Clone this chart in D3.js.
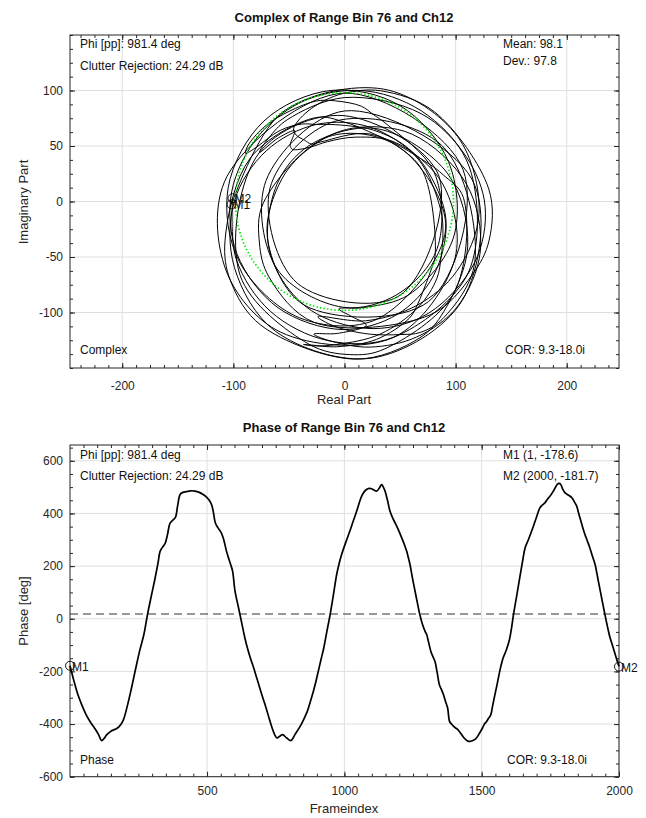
<!DOCTYPE html>
<html>
<head>
<meta charset="utf-8">
<title>Complex and Phase of Range Bin 76</title>
<style>
  body { margin: 0; background: #fff; }
  svg { display: block; font-family: "Liberation Sans", Arial, Helvetica, sans-serif; }
  .grid line { stroke: #dfdfdf; stroke-width: 1; }
  .axis path { display: none; }
  .axis line { stroke: #262626; }
  .axis text { fill: #262626; }
  .box { fill: none; stroke: #262626; stroke-width: 1; }
  .note { font-size: 12px; fill: #111; }
  .title { font-size: 13px; font-weight: bold; fill: #111; text-anchor: middle; }
  .label { font-size: 13px; fill: #262626; text-anchor: middle; }
</style>
</head>
<body>
<svg width="646" height="818"></svg>
<script src="https://d3js.org/d3.v7.min.js"></script>
<script>
// ---------------- data ----------------
// phase of the range bin, sampled along the frame index
const frameIdx = [
  1, 15, 30, 45, 60, 75, 90, 105, 116, 125,
  135, 150, 165, 180, 195, 210, 225, 240, 255, 270,
  283, 298, 310, 322, 329, 338, 347, 356, 365, 376,
  385, 393, 402, 412, 425, 440, 456, 472, 486, 498,
  508, 517, 523, 530, 540, 550, 559, 571, 580, 586,
  593, 602, 614, 626, 638, 647, 658, 670, 681, 692,
  703, 715, 726, 737, 746, 755, 765, 775, 790, 805,
  812, 820, 831, 842, 853, 865, 876, 887, 896, 905,
  915, 925, 936, 948, 960, 972, 981, 990, 1005, 1020,
  1032, 1045, 1054, 1063, 1072, 1081, 1090, 1099, 1108, 1118,
  1127, 1136, 1142, 1148, 1157, 1166, 1177, 1188, 1198, 1209,
  1218, 1227, 1233, 1239, 1247, 1255, 1265, 1275, 1284, 1294,
  1300, 1306, 1315, 1323, 1330, 1338, 1346, 1354, 1361, 1368,
  1376, 1383, 1390, 1398, 1405, 1413, 1425, 1436, 1447, 1458,
  1470, 1481, 1492, 1503, 1510, 1518, 1525, 1533, 1540, 1548,
  1556, 1563, 1570, 1578, 1590, 1601, 1608, 1615, 1628, 1640,
  1650, 1658, 1670, 1682, 1697, 1712, 1721, 1730, 1740, 1749,
  1761, 1768, 1775, 1782, 1788, 1795, 1803, 1815, 1828, 1837,
  1846, 1852, 1858, 1867, 1876, 1885, 1894, 1903, 1913, 1919,
  1925, 1931, 1937, 1943, 1949, 1958, 1967, 1975, 1983, 1991,
  2000
];
const phaseDeg = [
  -178.6, -235, -289, -330, -365, -392, -415, -440, -463, -455,
  -440, -427, -420, -410, -385, -330, -263, -190, -120, -60,
  15, 91, 150, 215, 256, 272, 285, 320, 362, 375,
  385, 430, 472, 480, 483, 486, 485, 480, 472, 462,
  450, 432, 405, 365, 345, 330, 307, 256, 225, 206,
  181, 104, 45, -15, -74, -111, -150, -187, -225, -263,
  -300, -339, -378, -415, -440, -453, -446, -440, -453, -463,
  -455, -440, -422, -403, -380, -352, -315, -276, -240, -200,
  -155, -111, -50, 15, 90, 168, 210, 244, 290, 333,
  370, 409, 440, 466, 482, 491, 495, 494, 489, 485,
  496, 510, 500, 485, 450, 409, 380, 358, 335, 307,
  283, 256, 232, 206, 160, 117, 65, 15, -20, -48,
  -61, -86, -124, -145, -162, -205, -251, -270, -289, -313,
  -339, -390, -400, -409, -415, -421, -437, -453, -463, -466,
  -462, -453, -435, -415, -400, -390, -378, -365, -330, -289,
  -250, -213, -180, -149, -118, -80, -40, 10, 90, 165,
  225, 269, 300, 333, 378, 421, 432, 440, 455, 466,
  485, 498, 510, 514, 510, 492, 479, 470, 460, 445,
  428, 405, 383, 350, 320, 295, 269, 238, 206, 175,
  142, 110, 78, 46, 15, -30, -70, -97, -124, -152,
  -181.7
];
// distance of the complex sample from the centre of rotation
const radiusCor = [
  112, 118, 122, 120, 112, 102, 94, 90, 92, 96,
  102, 110, 116, 118, 114, 104, 92, 82, 76, 78,
  86, 96, 106, 114, 118, 120, 118, 110, 100, 90,
  84, 80, 78, 80, 86, 94, 100, 104, 108, 112,
  116, 120, 122, 124, 122, 116, 108, 98, 92, 88,
  84, 80, 78, 82, 90, 100, 110, 118, 122, 120,
  112, 100, 90, 82, 78, 80, 86, 94, 102, 108,
  110, 114, 118, 120, 116, 106, 94, 84, 78, 76,
  80, 88, 98, 108, 116, 122, 124, 120, 110, 96,
  86, 80, 76, 76, 78, 82, 86, 90, 94, 98,
  102, 106, 108, 110, 112, 114, 116, 118, 114, 106,
  98, 90, 84, 80, 78, 80, 86, 94, 104, 114,
  120, 124, 126, 124, 118, 110, 100, 90, 82, 78,
  76, 78, 82, 88, 94, 100, 108, 114, 118, 120,
  118, 112, 104, 96, 90, 84, 80, 78, 80, 86,
  94, 102, 110, 116, 122, 124, 120, 112, 100, 88,
  82, 78, 76, 78, 84, 92, 98, 104, 110, 114,
  116, 118, 118, 116, 112, 106, 100, 94, 90, 86,
  84, 82, 80, 82, 86, 92, 98, 104, 110, 114,
  116, 118, 118, 116, 114, 112, 110, 110, 111, 112,
  112
];
const cor = [9.3, -18.0];      // centre of rotation (re, im)
const meanMag = 98.1;          // green reference circle
const phaseLevel = 18;         // dashed mean phase line
const markerNames = ['M1', 'M2'];
const markerFrames = [1, 2000];
const markerPhase = [-178.6, -181.7];

const reTicks = [-200, -100, 0, 100, 200];
const imTicks = [-100, -50, 0, 50, 100];
const frameTicks = [500, 1000, 1500, 2000];
const phaseTicks = [-600, -400, -200, 0, 200, 400, 600];

const infoLeft = ['Phi [pp]: 981.4 deg', 'Clutter Rejection: 24.29 dB'];
const infoComplex = ['Mean: 98.1', 'Dev.: 97.8'];
const infoPhase = ['M1 (1, -178.6)', 'M2 (2000, -181.7)'];
const corText = 'COR: 9.3-18.0i';

// ---------------- layout ----------------
const svg = d3.select('svg');
const FONT = '"Liberation Sans", Arial, Helvetica, sans-serif';
const left = 70, right = 619;

const xRe = d3.scaleLinear().domain([-247, 247]).range([left, right]);
const yIm = d3.scaleLinear().domain([-150, 150]).range([368, 35]);
const xFr = d3.scaleLinear().domain([1, 2000]).range([left, right]);
const yPh = d3.scaleLinear().domain([-600, 660]).range([776.7, 445]);

function minorTicks(scale, step) {
  const [a, b] = scale.domain();
  return d3.range(Math.ceil(a / step) * step, b + 1e-9, step);
}

// grid, ticks on all four sides, box
function drawAxes(g, x, y, xt, yt, xStep, yStep, pad) {
  const [x0, x1] = x.range();
  const [y0, y1] = y.range();
  const grid = g.append('g').attr('class', 'grid');
  grid.selectAll('.gx').data(xt).join('line')
    .attr('x1', d => x(d)).attr('x2', d => x(d)).attr('y1', y1).attr('y2', y0);
  grid.selectAll('.gy').data(yt).join('line')
    .attr('y1', d => y(d)).attr('y2', d => y(d)).attr('x1', x0).attr('x2', x1);

  const fmt = d => String(d);
  const put = (axis, tx, ty) => g.append('g').attr('class', 'axis')
    .attr('transform', `translate(${tx},${ty})`).call(axis)
    .attr('font-size', 12).attr('font-family', FONT);

  put(d3.axisBottom(x).tickValues(xt).tickSizeInner(-5).tickSizeOuter(0).tickPadding(pad).tickFormat(fmt), 0, y0);
  put(d3.axisBottom(x).tickValues(minorTicks(x, xStep)).tickSizeInner(-3).tickSizeOuter(0).tickFormat(''), 0, y0);
  put(d3.axisTop(x).tickValues(xt).tickSizeInner(-5).tickSizeOuter(0).tickFormat(''), 0, y1);
  put(d3.axisTop(x).tickValues(minorTicks(x, xStep)).tickSizeInner(-3).tickSizeOuter(0).tickFormat(''), 0, y1);
  put(d3.axisLeft(y).tickValues(yt).tickSizeInner(-5).tickSizeOuter(0).tickPadding(7).tickFormat(fmt), x0, 0);
  put(d3.axisLeft(y).tickValues(minorTicks(y, yStep)).tickSizeInner(-3).tickSizeOuter(0).tickFormat(''), x0, 0);
  put(d3.axisRight(y).tickValues(yt).tickSizeInner(-5).tickSizeOuter(0).tickFormat(''), x1, 0);
  put(d3.axisRight(y).tickValues(minorTicks(y, yStep)).tickSizeInner(-3).tickSizeOuter(0).tickFormat(''), x1, 0);

  g.append('rect').attr('class', 'box')
    .attr('x', x0).attr('y', y1).attr('width', x1 - x0).attr('height', y0 - y1);
}

function note(g, x, y, txt) {
  g.append('text').attr('class', 'note').attr('x', x).attr('y', y).text(txt);
}

// ---------------- complex plot ----------------
const gc = svg.append('g');
drawAxes(gc, xRe, yIm, reTicks, imTicks, 12.5, 12.5, 13);

svg.append('defs').append('clipPath').attr('id', 'clipC')
  .append('rect').attr('x', left).attr('y', 35).attr('width', right - left).attr('height', 333);

// each sample lies on the ray of its phase (seen from the origin),
// at its radius from the centre of rotation
const corSq = cor[0] * cor[0] + cor[1] * cor[1];
const pts = frameIdx.map((f, i) => {
  const a = phaseDeg[i] * Math.PI / 180;
  const ux = Math.cos(a), uy = Math.sin(a);
  const c = cor[0] * ux + cor[1] * uy;
  const m = c + Math.sqrt(c * c - corSq + radiusCor[i] * radiusCor[i]);
  return [m * ux, m * uy];
});

gc.append('path')
  .datum(pts)
  .attr('clip-path', 'url(#clipC)')
  .attr('fill', 'none')
  .attr('stroke', '#000')
  .attr('stroke-width', 1)
  .attr('d', d3.line().x(d => xRe(d[0])).y(d => yIm(d[1])).curve(d3.curveCatmullRom.alpha(0.5)));

// green circle of the mean magnitude
gc.append('ellipse')
  .attr('cx', xRe(0)).attr('cy', yIm(0))
  .attr('rx', xRe(meanMag) - xRe(0)).attr('ry', yIm(0) - yIm(meanMag))
  .attr('fill', 'none').attr('stroke', '#00e600').attr('stroke-width', 1.7)
  .attr('stroke-dasharray', '1.4,2.2');

const ends = [pts[0], pts[pts.length - 1]];
ends.forEach((p, i) => {
  gc.append('circle').attr('cx', xRe(p[0])).attr('cy', yIm(p[1])).attr('r', 4.5)
    .attr('fill', 'none').attr('stroke', '#000').attr('stroke-width', 0.9);
  gc.append('text').attr('class', 'note').attr('x', xRe(p[0]) + 2).attr('y', yIm(p[1]) + 5)
    .text(markerNames[i]);
});

note(gc, 80, 48, infoLeft[0]);
note(gc, 80, 70, infoLeft[1]);
note(gc, 503, 48, infoComplex[0]);
note(gc, 503, 65, infoComplex[1]);
note(gc, 80, 354, 'Complex');
note(gc, 505, 354, corText);

svg.append('text').attr('class', 'title').attr('x', 344).attr('y', 22)
  .text('Complex of Range Bin 76 and Ch12');
svg.append('text').attr('class', 'label').attr('x', 344).attr('y', 404).text('Real Part');
svg.append('text').attr('class', 'label')
  .attr('transform', 'translate(28,202) rotate(-90)').text('Imaginary Part');

// ---------------- phase plot ----------------
const gp = svg.append('g');
drawAxes(gp, xFr, yPh, frameTicks, phaseTicks, 50, 50, 10);

gp.append('line')
  .attr('x1', left).attr('x2', right).attr('y1', yPh(phaseLevel)).attr('y2', yPh(phaseLevel))
  .attr('stroke', '#333').attr('stroke-width', 1.2).attr('stroke-dasharray', '8,5');

gp.append('path')
  .datum(frameIdx.map((f, i) => [f, phaseDeg[i]]))
  .attr('fill', 'none')
  .attr('stroke', '#000')
  .attr('stroke-width', 1.7)
  .attr('d', d3.line().x(d => xFr(d[0])).y(d => yPh(d[1])).curve(d3.curveCatmullRom.alpha(0.5)));

markerFrames.forEach((f, i) => {
  gp.append('circle').attr('cx', xFr(f)).attr('cy', yPh(markerPhase[i])).attr('r', 4.5)
    .attr('fill', 'none').attr('stroke', '#000').attr('stroke-width', 0.9);
  gp.append('text').attr('class', 'note').attr('x', xFr(f) + 2).attr('y', yPh(markerPhase[i]) + 5)
    .text(markerNames[i]);
});

note(gp, 80, 459, infoLeft[0]);
note(gp, 80, 480, infoLeft[1]);
note(gp, 503, 459, infoPhase[0]);
note(gp, 503, 480, infoPhase[1]);
note(gp, 80, 764, 'Phase');
note(gp, 507, 764, corText);

svg.append('text').attr('class', 'title').attr('x', 344).attr('y', 432)
  .text('Phase of Range Bin 76 and Ch12');
svg.append('text').attr('class', 'label').attr('x', 344).attr('y', 813).text('Frameindex');
svg.append('text').attr('class', 'label')
  .attr('transform', 'translate(28,611) rotate(-90)').text('Phase [deg]');
</script>
</body>
</html>
